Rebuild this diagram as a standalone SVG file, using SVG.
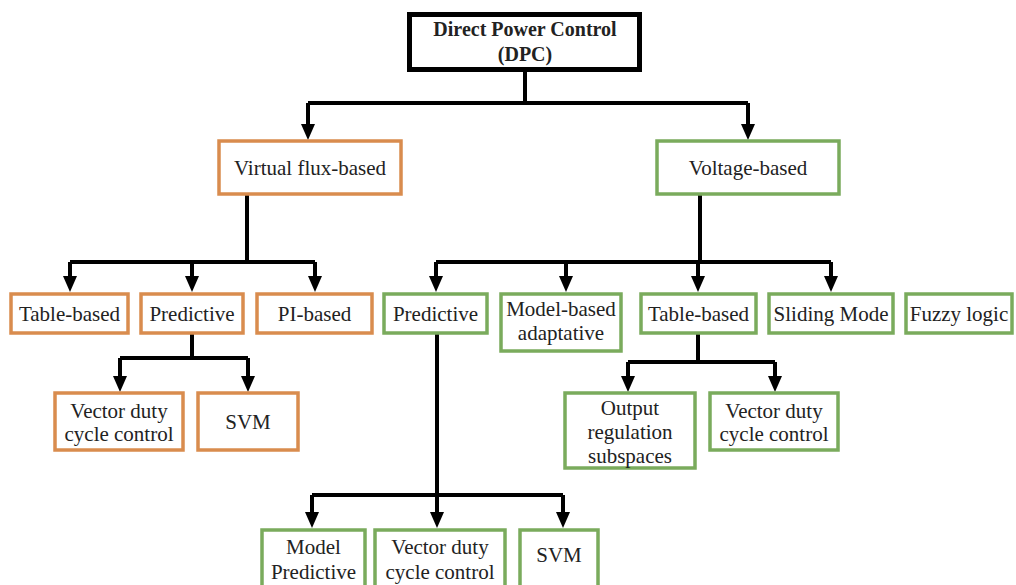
<svg xmlns="http://www.w3.org/2000/svg" width="1016" height="585" viewBox="0 0 1016 585" font-family="Liberation Serif, Tinos, Times New Roman, DejaVu Serif, serif">
<defs>
<style>
.o{fill:#fff;stroke:#d98c4e;stroke-width:3.5}
.g{fill:#fff;stroke:#7aab5c;stroke-width:3.5}
.t{font-size:21px;fill:#222;text-anchor:middle}
.b{font-size:20px;font-weight:bold}
.c{fill:none;stroke:#000;stroke-width:4}
</style>
<marker id="ah" viewBox="0 0 16 16" markerWidth="16" markerHeight="16" refX="6" refY="8" orient="auto" markerUnits="userSpaceOnUse">
<path d="M0,1 L16,8 L0,15 z" fill="#000"/>
</marker>
</defs>
<rect width="1016" height="585" fill="#fff"/>
<g id="connectors">
<path class="c" d="M525,72 V103"/>
<path class="c" d="M308,103 H748"/>
<path class="c" d="M308,103 V130" marker-end="url(#ah)"/>
<path class="c" d="M748,103 V130" marker-end="url(#ah)"/>
<path class="c" d="M247,195 V262"/>
<path class="c" d="M70,262 H315"/>
<path class="c" d="M70,262 V282" marker-end="url(#ah)"/>
<path class="c" d="M192,262 V282" marker-end="url(#ah)"/>
<path class="c" d="M315,262 V282" marker-end="url(#ah)"/>
<path class="c" d="M192,333 V358"/>
<path class="c" d="M120,358 H248"/>
<path class="c" d="M120,358 V382" marker-end="url(#ah)"/>
<path class="c" d="M248,358 V382" marker-end="url(#ah)"/>
<path class="c" d="M700,195 V262"/>
<path class="c" d="M436,262 H831"/>
<path class="c" d="M436,262 V282" marker-end="url(#ah)"/>
<path class="c" d="M566,262 V282" marker-end="url(#ah)"/>
<path class="c" d="M698,262 V282" marker-end="url(#ah)"/>
<path class="c" d="M831,262 V282" marker-end="url(#ah)"/>
<path class="c" d="M698,333 V362"/>
<path class="c" d="M628,362 H775"/>
<path class="c" d="M628,362 V382" marker-end="url(#ah)"/>
<path class="c" d="M775,362 V382" marker-end="url(#ah)"/>
<path class="c" d="M437,333 V495"/>
<path class="c" d="M312,495 H563"/>
<path class="c" d="M312,495 V518" marker-end="url(#ah)"/>
<path class="c" d="M437,495 V518" marker-end="url(#ah)"/>
<path class="c" d="M563,495 V518" marker-end="url(#ah)"/>
</g>
<g id="dpc">
<rect x="409.5" y="14.5" width="230" height="55" fill="#fff" stroke="#000" stroke-width="5"/>
<text class="t b" x="525" y="36">Direct Power Control</text>
<text class="t b" x="525" y="61">(DPC)</text>
</g>
<g id="virtual-flux">
<rect class="o" x="219" y="141" width="182" height="53"/>
<text class="t" x="310" y="175">Virtual flux-based</text>
</g>
<g id="voltage">
<rect class="g" x="657" y="141" width="182" height="53"/>
<text class="t" x="748" y="175">Voltage-based</text>
</g>
<g id="vf-table">
<rect class="o" x="11" y="294" width="117" height="39"/>
<text class="t" x="69.5" y="321">Table-based</text>
</g>
<g id="vf-predictive">
<rect class="o" x="141" y="294" width="102" height="39"/>
<text class="t" x="192" y="321">Predictive</text>
</g>
<g id="vf-pi">
<rect class="o" x="257" y="294" width="115" height="39"/>
<text class="t" x="314.5" y="321">PI-based</text>
</g>
<g id="vf-vector">
<rect class="o" x="55" y="393" width="128" height="57"/>
<text class="t" x="119" y="418">Vector duty</text>
<text class="t" x="119" y="441">cycle control</text>
</g>
<g id="vf-svm">
<rect class="o" x="198" y="393" width="100" height="57"/>
<text class="t" x="248" y="429">SVM</text>
</g>
<g id="v-predictive">
<rect class="g" x="384" y="294" width="103" height="39"/>
<text class="t" x="435.5" y="321">Predictive</text>
</g>
<g id="v-model">
<rect class="g" x="501" y="294" width="120" height="57"/>
<text class="t" x="561" y="316">Model-based</text>
<text class="t" x="561" y="340">adaptative</text>
</g>
<g id="v-table">
<rect class="g" x="641" y="294" width="115" height="39"/>
<text class="t" x="698.5" y="321">Table-based</text>
</g>
<g id="v-sliding">
<rect class="g" x="769" y="294" width="124" height="39"/>
<text class="t" x="831" y="321">Sliding Mode</text>
</g>
<g id="v-fuzzy">
<rect class="g" x="906" y="294" width="106" height="39"/>
<text class="t" x="959" y="321">Fuzzy logic</text>
</g>
<g id="v-output">
<rect class="g" x="565" y="393" width="130" height="75"/>
<text class="t" x="630" y="415">Output</text>
<text class="t" x="630" y="439">regulation</text>
<text class="t" x="630" y="463">subspaces</text>
</g>
<g id="v-vector">
<rect class="g" x="710" y="393" width="128" height="57"/>
<text class="t" x="774" y="418">Vector duty</text>
<text class="t" x="774" y="441">cycle control</text>
</g>
<g id="v-model-predictive">
<rect class="g" x="262" y="530" width="103" height="62"/>
<text class="t" x="313.5" y="554">Model</text>
<text class="t" x="313.5" y="579">Predictive</text>
</g>
<g id="v-vector2">
<rect class="g" x="375" y="530" width="130" height="62"/>
<text class="t" x="440" y="554">Vector duty</text>
<text class="t" x="440" y="579">cycle control</text>
</g>
<g id="v-svm">
<rect class="g" x="520" y="530" width="78" height="62"/>
<text class="t" x="559" y="562">SVM</text>
</g>
</svg>
